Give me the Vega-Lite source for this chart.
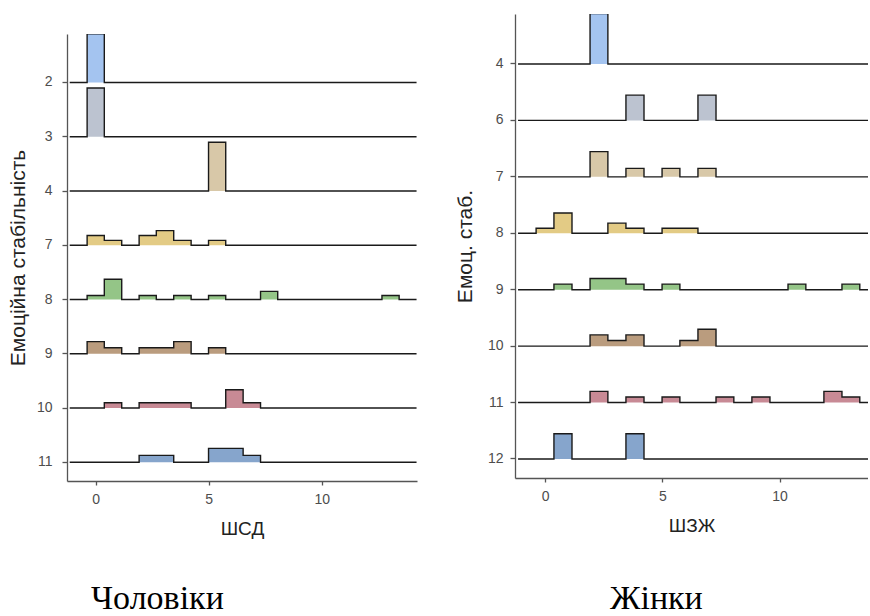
{
  "$schema": "https://vega.github.io/schema/vega-lite/v6.json",
  "background": "white",
  "padding": {"left": 7, "top": 14, "right": 0, "bottom": 0},
  "autosize": {"type": "pad"},
  "config": {
    "view": {"stroke": null},
    "font": "Liberation Sans",
    "axis": {
      "grid": false,
      "domainColor": "#555555",
      "domainWidth": 1.3,
      "tickColor": "#555555",
      "tickWidth": 1.3,
      "labelColor": "#4d4d4d",
      "labelFont": "Liberation Sans",
      "labelFontSize": 14,
      "titleFont": "Liberation Sans",
      "titleFontSize": 19,
      "titleFontWeight": "normal",
      "titleColor": "#222222"
    },
    "axisY": {"titleFontSize": 21},
    "title": {"font": "Liberation Serif", "fontSize": 34, "fontWeight": "normal", "color": "#000000"}
  },
  "datasets": {
    "men": [
      {"cat": 2, "bin_start": -1.15, "share": 0}, {"cat": 2, "bin_start": -0.38, "share": 1}, {"cat": 2, "bin_start": 0.38, "share": 0}, {"cat": 2, "bin_start": 14.19, "share": 0},
      {"cat": 3, "bin_start": -1.15, "share": 0}, {"cat": 3, "bin_start": -0.38, "share": 1}, {"cat": 3, "bin_start": 0.38, "share": 0}, {"cat": 3, "bin_start": 14.19, "share": 0},
      {"cat": 4, "bin_start": -1.15, "share": 0}, {"cat": 4, "bin_start": 4.99, "share": 1}, {"cat": 4, "bin_start": 5.75, "share": 0}, {"cat": 4, "bin_start": 14.19, "share": 0},
      {"cat": 7, "bin_start": -1.15, "share": 0}, {"cat": 7, "bin_start": -0.38, "share": 0.2}, {"cat": 7, "bin_start": 0.38, "share": 0.1}, {"cat": 7, "bin_start": 1.15, "share": 0}, {"cat": 7, "bin_start": 1.92, "share": 0.2}, {"cat": 7, "bin_start": 2.68, "share": 0.3}, {"cat": 7, "bin_start": 3.45, "share": 0.1}, {"cat": 7, "bin_start": 4.22, "share": 0}, {"cat": 7, "bin_start": 4.99, "share": 0.1}, {"cat": 7, "bin_start": 5.75, "share": 0}, {"cat": 7, "bin_start": 14.19, "share": 0},
      {"cat": 8, "bin_start": -1.15, "share": 0}, {"cat": 8, "bin_start": -0.38, "share": 0.083}, {"cat": 8, "bin_start": 0.38, "share": 0.417}, {"cat": 8, "bin_start": 1.15, "share": 0}, {"cat": 8, "bin_start": 1.92, "share": 0.083}, {"cat": 8, "bin_start": 2.68, "share": 0}, {"cat": 8, "bin_start": 3.45, "share": 0.083}, {"cat": 8, "bin_start": 4.22, "share": 0}, {"cat": 8, "bin_start": 4.99, "share": 0.083}, {"cat": 8, "bin_start": 5.75, "share": 0}, {"cat": 8, "bin_start": 7.29, "share": 0.167}, {"cat": 8, "bin_start": 8.05, "share": 0}, {"cat": 8, "bin_start": 12.66, "share": 0.083}, {"cat": 8, "bin_start": 13.42, "share": 0}, {"cat": 8, "bin_start": 14.19, "share": 0},
      {"cat": 9, "bin_start": -1.15, "share": 0}, {"cat": 9, "bin_start": -0.38, "share": 0.25}, {"cat": 9, "bin_start": 0.38, "share": 0.125}, {"cat": 9, "bin_start": 1.15, "share": 0}, {"cat": 9, "bin_start": 1.92, "share": 0.125}, {"cat": 9, "bin_start": 2.68, "share": 0.125}, {"cat": 9, "bin_start": 3.45, "share": 0.25}, {"cat": 9, "bin_start": 4.22, "share": 0}, {"cat": 9, "bin_start": 4.99, "share": 0.125}, {"cat": 9, "bin_start": 5.75, "share": 0}, {"cat": 9, "bin_start": 14.19, "share": 0},
      {"cat": 10, "bin_start": -1.15, "share": 0}, {"cat": 10, "bin_start": 0.38, "share": 0.11}, {"cat": 10, "bin_start": 1.15, "share": 0}, {"cat": 10, "bin_start": 1.92, "share": 0.11}, {"cat": 10, "bin_start": 2.68, "share": 0.11}, {"cat": 10, "bin_start": 3.45, "share": 0.11}, {"cat": 10, "bin_start": 4.22, "share": 0}, {"cat": 10, "bin_start": 5.75, "share": 0.375}, {"cat": 10, "bin_start": 6.52, "share": 0.11}, {"cat": 10, "bin_start": 7.29, "share": 0}, {"cat": 10, "bin_start": 14.19, "share": 0},
      {"cat": 11, "bin_start": -1.15, "share": 0}, {"cat": 11, "bin_start": 1.92, "share": 0.143}, {"cat": 11, "bin_start": 2.68, "share": 0.143}, {"cat": 11, "bin_start": 3.45, "share": 0}, {"cat": 11, "bin_start": 4.99, "share": 0.286}, {"cat": 11, "bin_start": 5.75, "share": 0.286}, {"cat": 11, "bin_start": 6.52, "share": 0.143}, {"cat": 11, "bin_start": 7.29, "share": 0}, {"cat": 11, "bin_start": 14.19, "share": 0}
    ],
    "women": [
      {"cat": 4, "bin_start": -1.15, "share": 0}, {"cat": 4, "bin_start": 1.92, "share": 1}, {"cat": 4, "bin_start": 2.68, "share": 0}, {"cat": 4, "bin_start": 14.19, "share": 0},
      {"cat": 6, "bin_start": -1.15, "share": 0}, {"cat": 6, "bin_start": 3.45, "share": 0.5}, {"cat": 6, "bin_start": 4.22, "share": 0}, {"cat": 6, "bin_start": 6.52, "share": 0.5}, {"cat": 6, "bin_start": 7.29, "share": 0}, {"cat": 6, "bin_start": 14.19, "share": 0},
      {"cat": 7, "bin_start": -1.15, "share": 0}, {"cat": 7, "bin_start": 1.92, "share": 0.5}, {"cat": 7, "bin_start": 2.68, "share": 0}, {"cat": 7, "bin_start": 3.45, "share": 0.167}, {"cat": 7, "bin_start": 4.22, "share": 0}, {"cat": 7, "bin_start": 4.99, "share": 0.167}, {"cat": 7, "bin_start": 5.75, "share": 0}, {"cat": 7, "bin_start": 6.52, "share": 0.167}, {"cat": 7, "bin_start": 7.29, "share": 0}, {"cat": 7, "bin_start": 14.19, "share": 0},
      {"cat": 8, "bin_start": -1.15, "share": 0}, {"cat": 8, "bin_start": -0.38, "share": 0.1}, {"cat": 8, "bin_start": 0.38, "share": 0.4}, {"cat": 8, "bin_start": 1.15, "share": 0}, {"cat": 8, "bin_start": 2.68, "share": 0.2}, {"cat": 8, "bin_start": 3.45, "share": 0.1}, {"cat": 8, "bin_start": 4.22, "share": 0}, {"cat": 8, "bin_start": 4.99, "share": 0.1}, {"cat": 8, "bin_start": 5.75, "share": 0.1}, {"cat": 8, "bin_start": 6.52, "share": 0}, {"cat": 8, "bin_start": 14.19, "share": 0},
      {"cat": 9, "bin_start": -1.15, "share": 0}, {"cat": 9, "bin_start": 0.38, "share": 0.111}, {"cat": 9, "bin_start": 1.15, "share": 0}, {"cat": 9, "bin_start": 1.92, "share": 0.222}, {"cat": 9, "bin_start": 2.68, "share": 0.222}, {"cat": 9, "bin_start": 3.45, "share": 0.111}, {"cat": 9, "bin_start": 4.22, "share": 0}, {"cat": 9, "bin_start": 4.99, "share": 0.111}, {"cat": 9, "bin_start": 5.75, "share": 0}, {"cat": 9, "bin_start": 10.36, "share": 0.111}, {"cat": 9, "bin_start": 11.12, "share": 0}, {"cat": 9, "bin_start": 12.66, "share": 0.111}, {"cat": 9, "bin_start": 13.42, "share": 0}, {"cat": 9, "bin_start": 14.19, "share": 0},
      {"cat": 10, "bin_start": -1.15, "share": 0}, {"cat": 10, "bin_start": 1.92, "share": 0.222}, {"cat": 10, "bin_start": 2.68, "share": 0.111}, {"cat": 10, "bin_start": 3.45, "share": 0.222}, {"cat": 10, "bin_start": 4.22, "share": 0}, {"cat": 10, "bin_start": 5.75, "share": 0.111}, {"cat": 10, "bin_start": 6.52, "share": 0.333}, {"cat": 10, "bin_start": 7.29, "share": 0}, {"cat": 10, "bin_start": 14.19, "share": 0},
      {"cat": 11, "bin_start": -1.15, "share": 0}, {"cat": 11, "bin_start": 1.92, "share": 0.222}, {"cat": 11, "bin_start": 2.68, "share": 0}, {"cat": 11, "bin_start": 3.45, "share": 0.111}, {"cat": 11, "bin_start": 4.22, "share": 0}, {"cat": 11, "bin_start": 4.99, "share": 0.111}, {"cat": 11, "bin_start": 5.75, "share": 0}, {"cat": 11, "bin_start": 7.29, "share": 0.111}, {"cat": 11, "bin_start": 8.05, "share": 0}, {"cat": 11, "bin_start": 8.82, "share": 0.111}, {"cat": 11, "bin_start": 9.59, "share": 0}, {"cat": 11, "bin_start": 11.89, "share": 0.222}, {"cat": 11, "bin_start": 12.66, "share": 0.111}, {"cat": 11, "bin_start": 13.42, "share": 0}, {"cat": 11, "bin_start": 14.19, "share": 0},
      {"cat": 12, "bin_start": -1.15, "share": 0}, {"cat": 12, "bin_start": 0.38, "share": 0.5}, {"cat": 12, "bin_start": 1.15, "share": 0}, {"cat": 12, "bin_start": 3.45, "share": 0.5}, {"cat": 12, "bin_start": 4.22, "share": 0}, {"cat": 12, "bin_start": 14.19, "share": 0}
    ]
  },
  "hconcat": [
    {
      "spacing": 0,
      "vconcat": [
        {
          "width": 350,
          "height": 20,
          "data": {"values": []},
          "mark": {"type": "rule"},
          "encoding": {}
        },
        {
          "width": 350,
          "height": 447,
          "data": {"name": "men"},
          "title": {"text": "Чоловіки", "orient": "bottom", "anchor": "start", "frame": "group", "dx": 24, "offset": 43.5},
          "encoding": {
            "x": {"field": "bin_start", "type": "quantitative", "stack": null, "scale": {"domain": [-1.27, 14.21], "nice": false, "zero": false},
                  "axis": {"title": "ШСД", "values": [0, 5, 10], "tickSize": 4, "labelPadding": 7, "titlePadding": 13.5}},
            "y": {"field": "cat", "type": "ordinal", "sort": "ascending",
                  "scale": {"type": "band", "paddingInner": 0.5, "paddingOuter": 0.369, "align": 0.872},
                  "axis": {"title": "Емоційна стабільність", "tickSize": 5, "labelPadding": 10, "titlePadding": 8}},
            "yOffset": {"field": "share", "type": "quantitative", "scale": {"domain": [0, 1], "range": [13.57, -35.23]}}
          },
          "layer": [
            {
              "mark": {"type": "area", "interpolate": "step-after", "orient": "vertical", "clip": true},
              "encoding": {
                "y2": {"field": "cat"},
                "color": {"field": "cat", "type": "ordinal", "legend": null,
                          "scale": {"domain": [2, 3, 4, 7, 8, 9, 10, 11], "range": ["#a4c4f0", "#bcc3d0", "#d8c8a8", "#e3cb85", "#94c587", "#ba9c7e", "#c88a95", "#86a5cc"]}}
              }
            },
            {
              "mark": {"type": "line", "interpolate": "step-after", "orient": "vertical", "color": "#1a1a1a", "strokeWidth": 1.4, "clip": true},
              "encoding": {"detail": {"field": "cat", "type": "ordinal"}}
            }
          ]
        }
      ]
    },
    {
      "width": 353,
      "height": 464,
      "data": {"name": "women"},
      "title": {"text": "Жінки", "orient": "bottom", "anchor": "start", "frame": "group", "dx": 95, "offset": 46.5},
      "encoding": {
        "x": {"field": "bin_start", "type": "quantitative", "stack": null, "scale": {"domain": [-1.28, 13.77], "nice": false, "zero": false},
              "axis": {"title": "ШЗЖ", "values": [0, 5, 10], "tickSize": 4, "labelPadding": 7, "titlePadding": 13.5}},
        "y": {"field": "cat", "type": "ordinal", "sort": "ascending",
              "scale": {"type": "band", "paddingInner": 0.5, "paddingOuter": 0.3613, "align": 0.88},
              "axis": {"title": "Емоц. стаб.", "tickSize": 5, "labelPadding": 7, "titlePadding": 12}},
        "yOffset": {"field": "share", "type": "quantitative", "scale": {"domain": [0, 1], "range": [14.1, -36.4]}}
      },
      "layer": [
        {
          "mark": {"type": "area", "interpolate": "step-after", "orient": "vertical", "clip": true},
          "encoding": {
            "y2": {"field": "cat"},
            "color": {"field": "cat", "type": "ordinal", "legend": null,
                      "scale": {"domain": [4, 6, 7, 8, 9, 10, 11, 12], "range": ["#a4c4f0", "#bcc3d0", "#d8c8a8", "#e3cb85", "#94c587", "#ba9c7e", "#c88a95", "#86a5cc"]}}
          }
        },
        {
          "mark": {"type": "line", "interpolate": "step-after", "orient": "vertical", "color": "#1a1a1a", "strokeWidth": 1.4, "clip": true},
          "encoding": {"detail": {"field": "cat", "type": "ordinal"}}
        }
      ]
    }
  ],
  "spacing": 37,
  "resolve": {"scale": {"color": "independent", "yOffset": "independent"}}
}
